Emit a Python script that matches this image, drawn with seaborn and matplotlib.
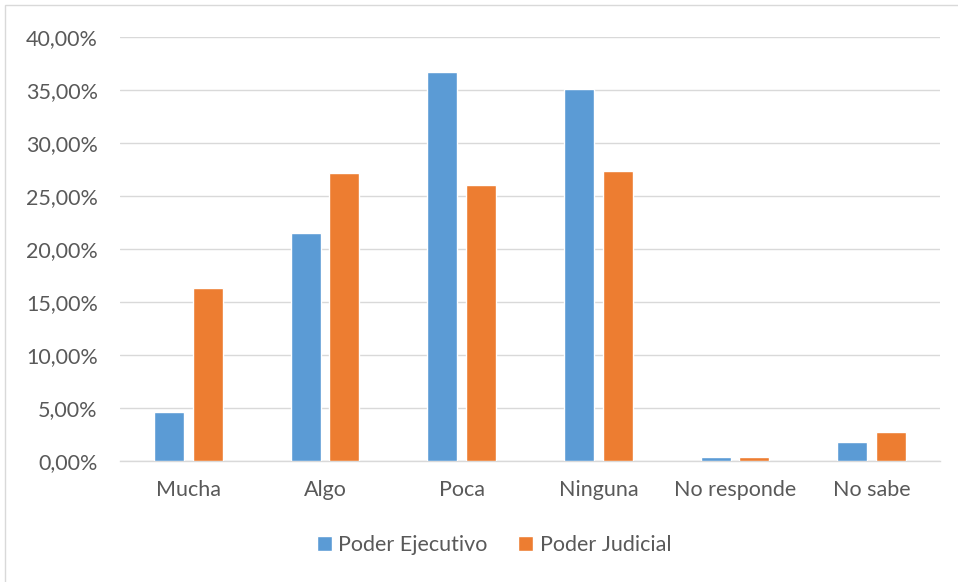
import pandas as pd
import matplotlib
matplotlib.use('Agg')
import matplotlib.pyplot as plt
import seaborn as sns
from matplotlib.ticker import FuncFormatter, MultipleLocator
from matplotlib.patches import Rectangle

# Data
categorias = ['Mucha', 'Algo', 'Poca', 'Ninguna', 'No responde', 'No sabe']
ejecutivo = [4.6, 21.5, 36.7, 35.1, 0.4, 1.8]
judicial = [16.3, 27.2, 26.0, 27.4, 0.4, 2.7]
series = ['Poder Ejecutivo', 'Poder Judicial']
colores = ['#5B9BD5', '#ED7D31']

df = pd.DataFrame({
    'categoria': categorias * 2,
    'valor': ejecutivo + judicial,
    'serie': [series[0]] * len(categorias) + [series[1]] * len(categorias),
})

sns.set_style('white')
plt.rcParams['font.family'] = ['Lato', 'DejaVu Sans']

fig = plt.figure(figsize=(9.58, 5.82), dpi=100)
ax = fig.add_axes([120 / 958, 1 - 461 / 582, 820 / 958, 424 / 582])

sns.barplot(data=df, x='categoria', y='valor', hue='serie', palette=colores,
            width=0.57, gap=0.23, saturation=1, ax=ax, zorder=3)

ax.set_ylim(0, 40)
ax.set_xlim(-0.5, len(categorias) - 0.5)
ax.yaxis.set_major_locator(MultipleLocator(5))
ax.yaxis.set_major_formatter(FuncFormatter(lambda v, p: f'{v:.2f}'.replace('.', ',') + '%'))
ax.grid(axis='y', color='#D9D9D9', linewidth=1, zorder=0)
ax.set_axisbelow(True)
for s in ['top', 'right', 'left']:
    ax.spines[s].set_visible(False)
ax.spines['bottom'].set_color('#D9D9D9')
ax.spines['bottom'].set_linewidth(1)
ax.tick_params(axis='both', length=0, labelsize=15.5, labelcolor='#595959')
ax.tick_params(axis='x', pad=14)
ax.tick_params(axis='y', pad=16)
ax.set_xlabel('')
ax.set_ylabel('')

handles, labels = ax.get_legend_handles_labels()
ax.get_legend().remove()
fig.legend(handles, labels, loc='center', bbox_to_anchor=(494 / 958, 1 - 545 / 582),
           ncol=2, frameon=False, fontsize=15.5, labelcolor='#595959',
           handlelength=0.7, handleheight=0.7, handletextpad=0.3, columnspacing=1.4)

# chart area border
fig.patches.append(Rectangle((5 / 958, -0.01), 1.1, 1 - 5 / 582 + 0.01,
                             transform=fig.transFigure, fill=False,
                             edgecolor='#D9D9D9', linewidth=1))

fig.savefig('out.png', dpi=100)
